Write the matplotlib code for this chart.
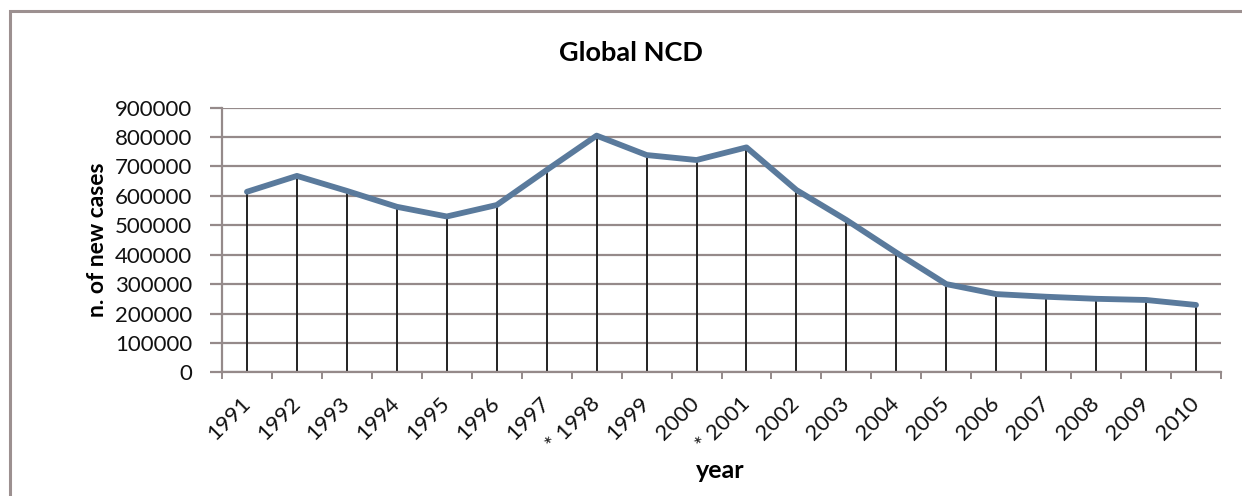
import matplotlib
matplotlib.use("Agg")
import matplotlib.pyplot as plt
from matplotlib.patches import Rectangle

years = ["1991", "1992", "1993", "1994", "1995", "1996", "1997", "* 1998", "1999", "2000",
         "* 2001", "2002", "2003", "2004", "2005", "2006", "2007", "2008", "2009", "2010"]
cases = [614000, 668000, 617000, 563000, 530000, 569000, 688000, 805000, 739000, 722000,
         765000, 620000, 518000, 407000, 300000, 266000, 257000, 250000, 246000, 229000]
yticks = [0, 100000, 200000, 300000, 400000, 500000, 600000, 700000, 800000, 900000]

plt.rcParams['font.family'] = ['Lato', 'DejaVu Sans']

W, H = 1242, 496
fig = plt.figure(figsize=(W / 100, H / 100), dpi=100)
fig.patch.set_facecolor("white")

# outer chart border
border = Rectangle((10 / W, -0.1), 1.2, (H - 11) / H + 0.1, transform=fig.transFigure,
                   fill=False, edgecolor="#9C9090", linewidth=2.2)
fig.patches.append(border)

ax = fig.add_axes([222 / W, 1 - 372.3 / H, (1221 - 222) / W, (372.3 - 107.7) / H])
x = list(range(len(years)))
ax.set_xlim(-0.5, len(years) - 0.5)
ax.set_ylim(0, 900000)

grid_c = "#958A8A"
for t in yticks:
    ax.axhline(t, color=grid_c, linewidth=1.6, zorder=1)

ax.vlines(x, 0, cases, color="#222222", linewidth=1.4, zorder=2)
ax.plot(x, cases, color="#5A7A9C", linewidth=4.2, solid_joinstyle="round",
        solid_capstyle="round", zorder=3)

for s in ["top", "right"]:
    ax.spines[s].set_visible(False)
ax.spines["left"].set_color(grid_c)
ax.spines["left"].set_linewidth(1.6)
ax.spines["bottom"].set_color(grid_c)
ax.spines["bottom"].set_linewidth(1.6)

ax.set_yticks(yticks)
ax.set_yticklabels([str(v) for v in yticks], fontsize=16, color="#111111")
ax.tick_params(axis="y", length=9, width=1.6, color=grid_c, pad=12.5)

ax.set_xticks(x)
ax.set_xticklabels(years, rotation=45, ha="right", va="center", rotation_mode="anchor",
                   fontsize=16, color="#111111")
ax.tick_params(axis="x", length=0, pad=20)
ax.set_xticks([i - 0.5 for i in range(len(years) + 1)], minor=True)
ax.tick_params(axis="x", which="minor", length=5, width=1.4, color=grid_c)

fig.text(631 / W, 1 - 53 / H, "Global NCD", ha="center", va="center",
         fontsize=19.5, fontweight="bold")
fig.text(720 / W, 1 - 471 / H, "year", ha="center", va="center",
         fontsize=18, fontweight="bold")
fig.text(97 / W, 1 - 240 / H, "n. of new cases", ha="center", va="center",
         rotation=90, fontsize=16.5, fontweight="bold")

fig.savefig("out.png", dpi=100)
